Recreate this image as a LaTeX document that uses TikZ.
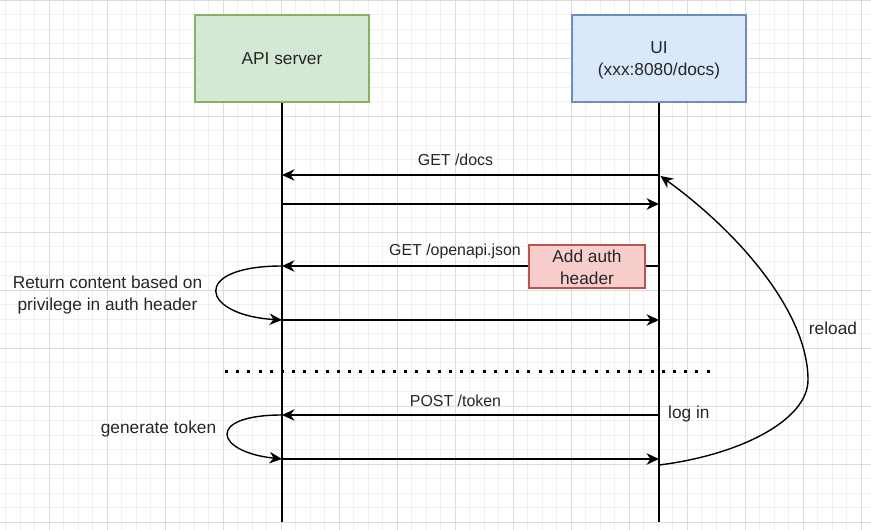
\documentclass[tikz,border=0pt]{standalone}
\usepackage{fontspec}
\setmainfont{Liberation Sans}
\usetikzlibrary{arrows.meta}
\begin{document}
\begin{tikzpicture}[x=1pt,y=-1pt,
  every node/.style={font=\fontsize{17.3}{21.8}\selectfont, text=black!85, inner sep=0pt},
  actor/.style={draw, line width=1.2pt, minimum width=174pt, minimum height=87pt, align=center},
  apibox/.style={actor, fill={rgb,255:red,213;green,232;blue,212}, draw={rgb,255:red,130;green,179;blue,102}},
  uibox/.style={actor, fill={rgb,255:red,218;green,232;blue,252}, draw={rgb,255:red,108;green,142;blue,191}},
  authbox/.style={draw={rgb,255:red,184;green,84;blue,80}, fill={rgb,255:red,248;green,206;blue,204}, line width=1.2pt, minimum width=116pt, minimum height=43pt, align=center},
  life/.style={line width=1.4pt},
  msg/.style={line width=1.4pt, -{Stealth[length=12.5pt,width=11.5pt,inset=4pt]}},
  lbl/.style={align=center},
  msglbl/.style={font=\fontsize{15.9}{19}\selectfont},
  gridminor/.style={line width=0.7pt, black!6},
  gridmajor/.style={line width=0.9pt, black!14}]
\useasboundingbox (0,0) rectangle (871,530);
\fill[white] (0,0) rectangle (871,530);
% grid
\foreach \i in {0,...,60} {
  \pgfmathsetmacro{\gx}{5.8+14.5*\i}
  \draw[gridminor] (\gx,0) -- (\gx,530);
}
\foreach \i in {0,...,37} {
  \pgfmathsetmacro{\gy}{0.3+14.5*\i}
  \draw[gridminor] (0,\gy) -- (871,\gy);
}
\foreach \i in {0,...,14} {
  \pgfmathsetmacro{\gx}{49.3+58*\i}
  \draw[gridmajor] (\gx,0) -- (\gx,530);
}
\foreach \i in {0,...,9} {
  \pgfmathsetmacro{\gy}{0.3+58*\i}
  \draw[gridmajor] (0,\gy) -- (871,\gy);
}
% actors
\node[apibox] (api) at (282,58.5) {};
\node[lbl] (apit) at (282,59) {API server};
\node[uibox] (ui) at (659,58.5) {};
\node[lbl] (uit) at (659,60.5) {UI\\(xxx:8080/docs)};
\coordinate (apiend) at (282,522);
\coordinate (uiend) at (659,522);
\draw[life] (api.south) -- (apiend);
\draw[life] (ui.south) -- (uiend);
% lifeline points
\coordinate (a1) at (282,175); \coordinate (u1) at (659,175);
\coordinate (a2) at (282,204); \coordinate (u2) at (659,204);
\coordinate (a3) at (282,266); \coordinate (u3) at (659,266);
\coordinate (a4) at (282,320); \coordinate (u4) at (659,320);
\coordinate (a5) at (282,415); \coordinate (u5) at (659,415);
\coordinate (a6) at (282,459); \coordinate (u6) at (659,459);
\coordinate (u7) at (659,465); \coordinate (u8) at (660.5,176);
% messages
\draw[msg] (u1) -- (a1);
\node[lbl, msglbl] (l1) at (455.5,160) {GET /docs};
\draw[msg] (a2) -- (u2);
\draw[msg] (u3) -- (a3);
\node[lbl, msglbl] (l2) at (455,251) {GET /openapi.json};
\node[authbox] (auth) at (587,266.5) {};
\node[lbl] (autht) at (587,267) {Add auth\\header};
\draw[msg] (a3) .. controls (190,266) and (200,315) .. (a4);
\node[lbl] (l3) at (107.5,295) {Return content based on\\privilege in auth header};
\draw[msg] (a4) -- (u4);
% separator
\coordinate (s1) at (225,371); \coordinate (s2) at (716,371);
\draw[line width=3pt, dash pattern=on 3pt off 8.2pt] (s1) -- (s2);
\draw[msg] (u5) -- (a5);
\node[lbl, msglbl] (l4) at (455.5,401) {POST /token};
\node[lbl, anchor=west] (l5) at (668,414) {log in};
\draw[msg] (a5) .. controls (205,415) and (215,452) .. (a6);
\node[lbl] (l6) at (158.5,429) {generate token};
\draw[msg] (a6) -- (u6);
% reload
\draw[msg] (u7) .. controls (740,455) and (808,420) .. (808,380)
  .. controls (808,312) and (738,232) .. (u8);
\node[lbl] (l7) at (833,328) {reload};
\end{tikzpicture}
\end{document}
